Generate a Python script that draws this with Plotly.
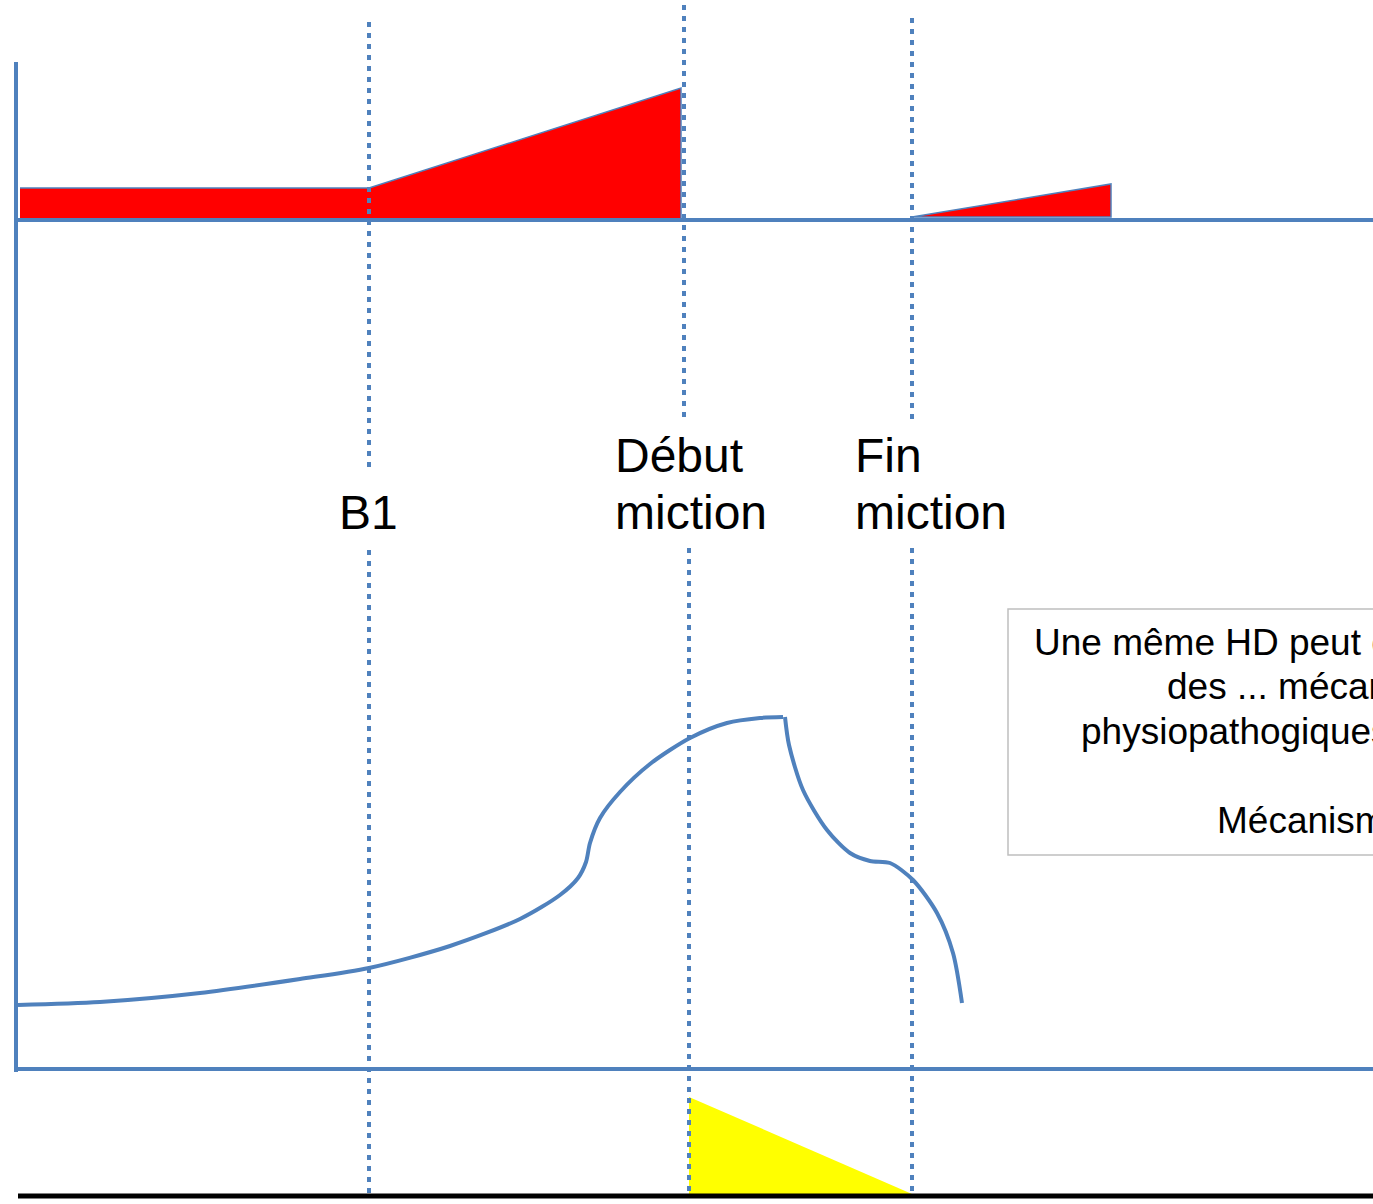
import plotly.graph_objects as go

W, H = 1373, 1204
BLUE = "#4F81BD"
FONT = "Liberation Sans, Arial, sans-serif"

# Axes frame (pixel-like diagram coordinates)
left_axis_x = [16, 16]
left_axis_y = [62, 1072]
top_base_x = [16, 1373]
top_base_y = [220, 220]
mid_base_x = [16, 1373]
mid_base_y = [1069, 1069]
black_base_x = [18, 1373]
black_base_y = [1196, 1196]

# Red pressure areas
red_big_x = [20, 369, 681, 681, 20]
red_big_y = [188, 188, 88, 219, 219]
red_small_x = [912, 1111, 1111, 912]
red_small_y = [217, 184, 217, 217]

# Yellow flow triangle
yellow_x = [689, 689, 912, 689]
yellow_y = [1097, 1194, 1194, 1097]

# Blue curve: rising part, falling part
rise_x = [18, 100, 200, 300, 369, 450, 520, 560, 578, 586, 590, 600, 620, 650, 690, 727, 760, 783]
rise_y = [1005, 1002, 993, 979, 968, 946, 919, 895, 878, 862, 843, 818, 792, 764, 738, 723, 718, 717]
fall_x = [785, 789, 803, 827, 850, 870, 890, 913, 937, 953, 962]
fall_y = [717, 745, 790, 830, 853, 861, 863, 880, 913, 953, 1003]

# Dotted event markers (x, y_start, y_end)
markers_x = [369, 369, 684, 689, 912, 912]
markers_y0 = [22, 550, 5, 548, 18, 548]
markers_y1 = [470, 1196, 420, 1196, 425, 1196]

labels = ["B1", "Début", "miction", "Fin", "miction"]
labels_x = [368, 613, 613, 853, 853]
labels_y = [512, 455, 512, 455, 512]
labels_anchor = ["center", "left", "left", "left", "left"]

box_lines = ["Une même HD peut être", "des ... mécanismes", "physiopathogiques", "Mécanismes"]
box_lines_x = [1032, 1165, 1079, 1215]
box_lines_y = [642, 686, 731, 820]

fig = go.Figure()

def line(x, y, color=BLUE, width=4, dash="solid"):
    fig.add_trace(go.Scatter(x=x, y=y, mode="lines", hoverinfo="skip",
                             line=dict(color=color, width=width, dash=dash),
                             showlegend=False))

# fills
fig.add_trace(go.Scatter(x=red_big_x, y=red_big_y, mode="lines", fill="toself",
                         fillcolor="#FF0000", line=dict(color=BLUE, width=1.5),
                         hoverinfo="skip", showlegend=False))
fig.add_trace(go.Scatter(x=red_small_x, y=red_small_y, mode="lines", fill="toself",
                         fillcolor="#FF0000", line=dict(color=BLUE, width=1.5),
                         hoverinfo="skip", showlegend=False))
fig.add_trace(go.Scatter(x=yellow_x, y=yellow_y, mode="lines", fill="toself",
                         fillcolor="#FFFF00", line=dict(color="#FFFF00", width=0),
                         hoverinfo="skip", showlegend=False))

# frame
line(left_axis_x, left_axis_y)
line(top_base_x, top_base_y)
line(mid_base_x, mid_base_y)
line(black_base_x, black_base_y, color="#000000", width=5)

# dotted markers
for mx, a, b in zip(markers_x, markers_y0, markers_y1):
    line([mx, mx], [a, b], width=4, dash="5px,6px")

# curve
fig.add_trace(go.Scatter(x=rise_x, y=rise_y, mode="lines", line_shape="spline",
                         line=dict(color=BLUE, width=4, smoothing=0.8),
                         hoverinfo="skip", showlegend=False))
fig.add_trace(go.Scatter(x=fall_x, y=fall_y, mode="lines", line_shape="spline",
                         line=dict(color=BLUE, width=4, smoothing=0.8),
                         hoverinfo="skip", showlegend=False))

# text box
fig.add_shape(type="rect", x0=1008, y0=609, x1=1400, y1=855, xref="x", yref="y",
              line=dict(color="#BFBFBF", width=1.5), fillcolor="rgba(0,0,0,0)")

for t, x, y, a in zip(labels, labels_x, labels_y, labels_anchor):
    fig.add_annotation(x=x, y=y, text=t, showarrow=False, xanchor=a, yanchor="middle",
                       font=dict(family=FONT, size=48, color="#000000"))
for t, x, y in zip(box_lines, box_lines_x, box_lines_y):
    fig.add_annotation(x=x, y=y, text=t, showarrow=False, xanchor="left", yanchor="middle",
                       font=dict(family=FONT, size=37, color="#000000"))

fig.update_layout(
    width=W, height=H, margin=dict(l=0, r=0, t=0, b=0),
    paper_bgcolor="white", plot_bgcolor="white",
    xaxis=dict(range=[0, W], visible=False, fixedrange=True),
    yaxis=dict(range=[H, 0], visible=False, fixedrange=True),
)
fig.write_html("out.html", config={"displayModeBar": False},
               post_script="document.body.style.margin='0';document.body.style.overflow='hidden';")
